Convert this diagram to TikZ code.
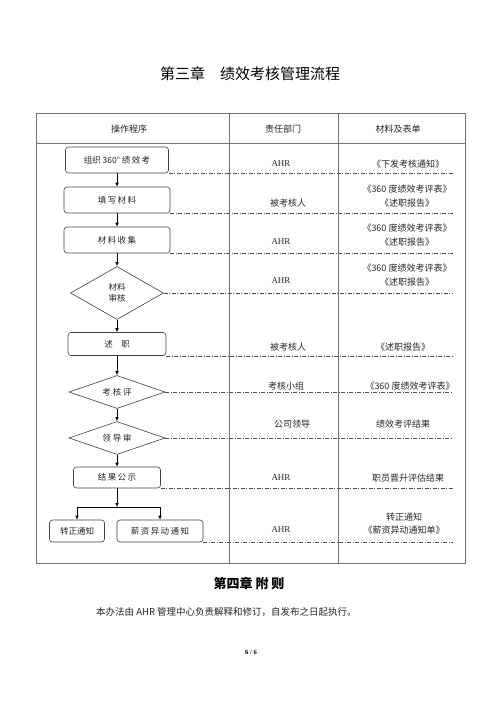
\documentclass[tikz,border=0pt]{standalone}
\usepackage{fontspec}
\setmainfont{Liberation Serif}
\newfontfamily\cjk{Noto Sans CJK SC}
\usetikzlibrary{shapes.geometric,arrows.meta}

\tikzset{
  stepbox/.style={draw=black!75, rounded corners=3pt, line width=0.6pt, inner sep=0pt,
    font=\cjk\fontsize{8.5}{10}\selectfont, text=black!85},
  checkbox/.style={draw=black!75, diamond, aspect=2.2, line width=0.6pt, inner sep=0pt,
    align=center, font=\cjk\fontsize{8.5}{11}\selectfont, text=black!85},
  flowarrow/.style={-{Latex[length=4pt,width=3.5pt]}, line width=0.6pt},
  rowline/.style={draw=black!70, line width=0.5pt, dash pattern=on 4pt off 1.5pt on 1pt off 1.5pt},
  celltext/.style={font=\cjk\fontsize{9}{13.5}\selectfont, align=center, text=black!85, inner sep=0pt},
  ahrtext/.style={font=\rmfamily\fontsize{9}{11}\selectfont, text=black!85, inner sep=0pt},
  gridline/.style={draw=black!55, line width=0.6pt},
}

\begin{document}
\begin{tikzpicture}[x=1pt, y=-1pt]
  \useasboundingbox (0,0) rectangle (500,707);

  % title and table frame
  \node[font=\cjk\fontsize{15}{17}\selectfont] (title) at (250,74) {第三章\quad 绩效考核管理流程};
  \draw[gridline] (36,113) rectangle (465,563);
  \draw[gridline] (36,143) -- (465,143);
  \draw[gridline] (229,113) -- (229,563);
  \draw[gridline] (338,113) -- (338,563);
  \node[celltext] (h1) at (129,129) {操作程序};
  \node[celltext] (h2) at (283,129) {责任部门};
  \node[celltext] (h3) at (398,129) {材料及表单};

  % flow steps
  \node[stepbox, minimum width=103pt, minimum height=26pt] (s1) at (117,160) {组织\ 360°\ 绩\,效\,考};
  \node[stepbox, minimum width=106pt, minimum height=26pt] (s2) at (117,200) {填\,写\,材\,料};
  \node[stepbox, minimum width=106pt, minimum height=26pt] (s3) at (117,240) {材\,料\,收\,集};
  \node[checkbox, minimum width=93pt, minimum height=53pt] (s4) at (117,293) {材料\\审核};
  \node[stepbox, minimum width=98pt, minimum height=23pt] (s5) at (117,344) {述\quad 职};
  \node[checkbox, minimum width=96pt, minimum height=33pt] (s6) at (117,392) {考\ 核\ 评};
  \node[checkbox, minimum width=96pt, minimum height=33pt] (s7) at (117,438) {领\ 导\ 审};
  \node[stepbox, minimum width=87pt, minimum height=21pt] (s8) at (117,477.5) {结\,果\,公\,示};
  \node[stepbox, minimum width=55pt, minimum height=22pt] (s9) at (77,531) {转正通知};
  \node[stepbox, minimum width=86pt, minimum height=22pt] (s10) at (160,531) {薪\,资\,异\,动\,通\,知};

  \draw[flowarrow] (s1) -- (s2);
  \draw[flowarrow] (s2) -- (s3);
  \draw[flowarrow] (s3) -- (s4);
  \draw[flowarrow] (s4) -- (s5);
  \draw[flowarrow] (s5) -- (s6);
  \draw[flowarrow] (s6) -- (s7);
  \draw[flowarrow] (s7) -- (s8);
  \coordinate (fork) at (117,507);
  \draw[flowarrow] (s8) -- (fork);
  \draw[line width=0.6pt] (s9.north |- fork) -- (s10.north |- fork);
  \draw[flowarrow] (s9.north |- fork) -- (s9);
  \draw[flowarrow] (s10.north |- fork) -- (s10);

  % row separators
  \coordinate (rowend) at (453,0);
  \foreach \n/\a in {s1/south east, s2/south east, s3/south east, s4/east, s5/south east,
                     s6/east, s7/east, s8/south east, s10/south east}
    \draw[rowline] (\n.\a) -- (\n.\a -| rowend);

  % department and form columns
  \node[ahrtext] (d1) at (281,164) {AHR};
  \node[celltext] (m1) at (408,164) {《下发考核通知》};
  \node[celltext] (d2) at (288,203) {被考核人};
  \node[celltext] (m2) at (407,196) {《360 度绩效考评表》\\《述职报告》};
  \node[ahrtext] (d3) at (281,242) {AHR};
  \node[celltext] (m3) at (407,235) {《360 度绩效考评表》\\《述职报告》};
  \node[ahrtext] (d4) at (281,281) {AHR};
  \node[celltext] (m4) at (407,275) {《360 度绩效考评表》\\《述职报告》};
  \node[celltext] (d5) at (288,347) {被考核人};
  \node[celltext] (m5) at (403,347) {《述职报告》};
  \node[celltext] (d6) at (286,386) {考核小组};
  \node[celltext] (m6) at (410,386) {《360 度绩效考评表》};
  \node[celltext] (d7) at (292,424) {公司领导};
  \node[celltext] (m7) at (403,424) {绩效考评结果};
  \node[ahrtext] (d8) at (281,478) {AHR};
  \node[celltext] (m8) at (408,478) {职员晋升评估结果};
  \node[ahrtext] (d9) at (281,530) {AHR};
  \node[celltext] (m9) at (404,523.5) {转正通知\\《薪资异动通知单》};

  % closing chapter
  \node[font=\cjk\bfseries\fontsize{13}{15}\selectfont] (ch4) at (249,583) {第四章\ 附\ 则};
  \node[celltext, anchor=west, font=\cjk\fontsize{9.5}{11}\selectfont] (note) at (96,612)
    {本办法由 AHR 管理中心负责解释和修订，自发布之日起执行。};
  \node[font=\bfseries\fontsize{6.5}{8}\selectfont] (page) at (251,652) {6 / 6};
\end{tikzpicture}
\end{document}
